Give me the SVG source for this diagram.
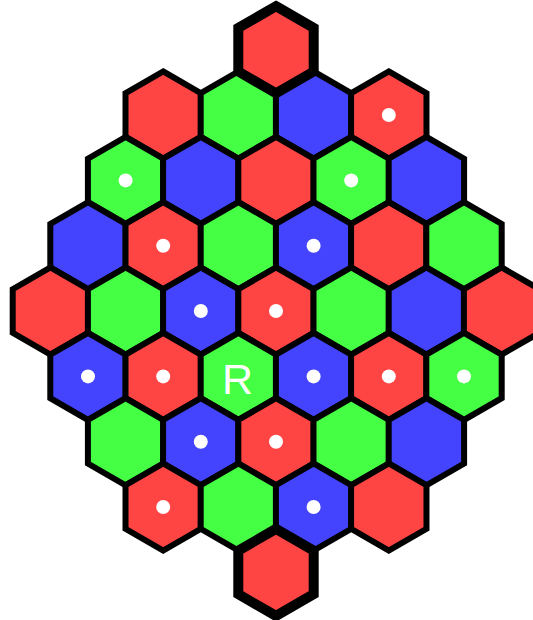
<svg xmlns="http://www.w3.org/2000/svg" xmlns:xlink="http://www.w3.org/1999/xlink" width="533" height="620" viewBox="0 0 533 620">
<style>
.h{stroke:#000;stroke-width:6;stroke-linejoin:miter}
.t{stroke-width:10}
.r{fill:#ff4444}
.g{fill:#44ff44}
.b{fill:#4444ff}
.d{fill:#fff}
.lbl{fill:#fff;font-family:"Liberation Sans",Arial,sans-serif;font-size:43px;text-anchor:middle}
</style>
<defs>
<polygon id="hex" points="0,-43.55 37.7,-21.78 37.7,21.78 0,43.55 -37.7,21.78 -37.7,-21.78"/>
</defs>
<rect width="533" height="620" fill="#fff"/>
<g id="grid">
<!-- row 1 -->
<use id="h1a" href="#hex" xlink:href="#hex" x="163.2" y="115" class="h r"/>
<use id="h1b" href="#hex" xlink:href="#hex" x="238.4" y="115" class="h g"/>
<use id="h1c" href="#hex" xlink:href="#hex" x="313.6" y="115" class="h b"/>
<use id="h1d" href="#hex" xlink:href="#hex" x="388.8" y="115" class="h r"/>
<!-- row 2 -->
<use id="h2a" href="#hex" xlink:href="#hex" x="125.6" y="180.4" class="h g"/>
<use id="h2b" href="#hex" xlink:href="#hex" x="200.8" y="180.4" class="h b"/>
<use id="h2c" href="#hex" xlink:href="#hex" x="276" y="180.4" class="h r"/>
<use id="h2d" href="#hex" xlink:href="#hex" x="351.2" y="180.4" class="h g"/>
<use id="h2e" href="#hex" xlink:href="#hex" x="426.4" y="180.4" class="h b"/>
<!-- row 3 -->
<use id="h3a" href="#hex" xlink:href="#hex" x="88" y="245.7" class="h b"/>
<use id="h3b" href="#hex" xlink:href="#hex" x="163.2" y="245.7" class="h r"/>
<use id="h3c" href="#hex" xlink:href="#hex" x="238.4" y="245.7" class="h g"/>
<use id="h3d" href="#hex" xlink:href="#hex" x="313.6" y="245.7" class="h b"/>
<use id="h3e" href="#hex" xlink:href="#hex" x="388.8" y="245.7" class="h r"/>
<use id="h3f" href="#hex" xlink:href="#hex" x="464" y="245.7" class="h g"/>
<!-- row 4 -->
<use id="h4a" href="#hex" xlink:href="#hex" x="50.4" y="311" class="h r"/>
<use id="h4b" href="#hex" xlink:href="#hex" x="125.6" y="311" class="h g"/>
<use id="h4c" href="#hex" xlink:href="#hex" x="200.8" y="311" class="h b"/>
<use id="h4d" href="#hex" xlink:href="#hex" x="276" y="311" class="h r"/>
<use id="h4e" href="#hex" xlink:href="#hex" x="351.2" y="311" class="h g"/>
<use id="h4f" href="#hex" xlink:href="#hex" x="426.4" y="311" class="h b"/>
<use id="h4g" href="#hex" xlink:href="#hex" x="501.6" y="311" class="h r"/>
<!-- row 5 -->
<use id="h5a" href="#hex" xlink:href="#hex" x="88" y="376.4" class="h b"/>
<use id="h5b" href="#hex" xlink:href="#hex" x="163.2" y="376.4" class="h r"/>
<use id="h5c" href="#hex" xlink:href="#hex" x="238.4" y="376.4" class="h g"/>
<use id="h5d" href="#hex" xlink:href="#hex" x="313.6" y="376.4" class="h b"/>
<use id="h5e" href="#hex" xlink:href="#hex" x="388.8" y="376.4" class="h r"/>
<use id="h5f" href="#hex" xlink:href="#hex" x="464" y="376.4" class="h g"/>
<!-- row 6 -->
<use id="h6a" href="#hex" xlink:href="#hex" x="125.6" y="441.7" class="h g"/>
<use id="h6b" href="#hex" xlink:href="#hex" x="200.8" y="441.7" class="h b"/>
<use id="h6c" href="#hex" xlink:href="#hex" x="276" y="441.7" class="h r"/>
<use id="h6d" href="#hex" xlink:href="#hex" x="351.2" y="441.7" class="h g"/>
<use id="h6e" href="#hex" xlink:href="#hex" x="426.4" y="441.7" class="h b"/>
<!-- row 7 -->
<use id="h7a" href="#hex" xlink:href="#hex" x="163.2" y="507" class="h r"/>
<use id="h7b" href="#hex" xlink:href="#hex" x="238.4" y="507" class="h g"/>
<use id="h7c" href="#hex" xlink:href="#hex" x="313.6" y="507" class="h b"/>
<use id="h7d" href="#hex" xlink:href="#hex" x="388.8" y="507" class="h r"/>
<!-- top and bottom, thick outline -->
<use id="h0" href="#hex" xlink:href="#hex" x="276" y="49.7" class="h t r"/>
<use id="h8" href="#hex" xlink:href="#hex" x="276" y="572.4" class="h t r"/>
</g>
<g id="dots" class="d">
<circle cx="388.8" cy="115" r="7"/>
<circle cx="125.6" cy="180.4" r="7"/>
<circle cx="351.2" cy="180.4" r="7"/>
<circle cx="163.2" cy="245.7" r="7"/>
<circle cx="313.6" cy="245.7" r="7"/>
<circle cx="200.8" cy="311" r="7"/>
<circle cx="276" cy="311" r="7"/>
<circle cx="88" cy="376.4" r="7"/>
<circle cx="163.2" cy="376.4" r="7"/>
<circle cx="313.6" cy="376.4" r="7"/>
<circle cx="388.8" cy="376.4" r="7"/>
<circle cx="464" cy="376.4" r="7"/>
<circle cx="200.8" cy="441.7" r="7"/>
<circle cx="276" cy="441.7" r="7"/>
<circle cx="163.2" cy="507" r="7"/>
<circle cx="313.6" cy="507" r="7"/>
</g>
<text class="lbl" x="237.5" y="393.5">R</text>
</svg>
